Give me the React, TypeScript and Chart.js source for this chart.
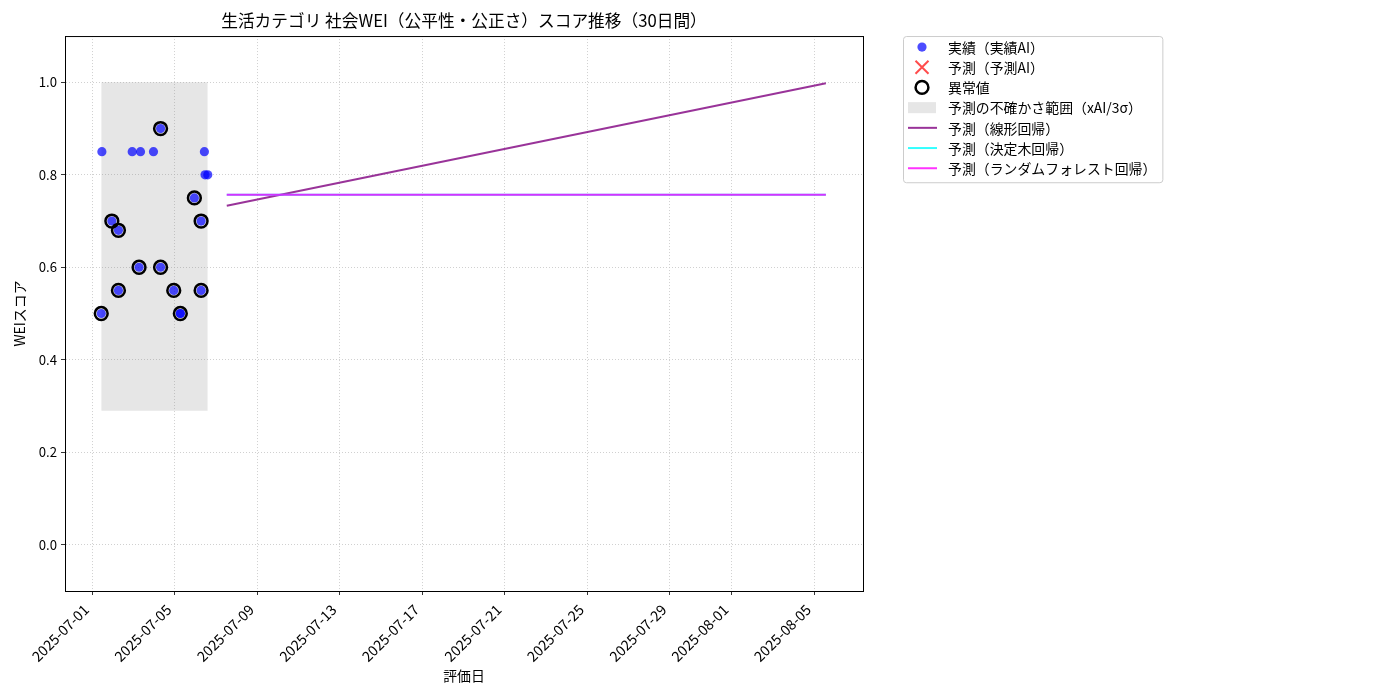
import { useEffect, useRef } from 'react';
import { Chart, registerables } from 'chart.js';

Chart.register(...registerables);

const FONT = '"Noto Sans CJK JP", "Noto Sans", sans-serif';

// 実績（実績AI）
const actualDates = [
  '2025-07-01T10:30', '2025-07-01T11:15', '2025-07-01T22:50', '2025-07-02T06:30',
  '2025-07-02T06:30', '2025-07-02T22:30', '2025-07-03T06:30', '2025-07-03T08:10',
  '2025-07-03T23:15', '2025-07-04T07:30', '2025-07-04T07:30', '2025-07-04T22:50',
  '2025-07-05T06:30', '2025-07-05T06:30', '2025-07-05T22:50', '2025-07-06T06:40',
  '2025-07-06T06:40', '2025-07-06T10:30', '2025-07-06T11:15', '2025-07-06T14:25',
];
const actualScores = [
  0.5, 0.85, 0.7, 0.68,
  0.55, 0.85, 0.6, 0.85,
  0.85, 0.9, 0.6, 0.55,
  0.5, 0.5, 0.75, 0.7,
  0.55, 0.85, 0.8, 0.8,
];

// 異常値
const outlierDates = [
  '2025-07-01T10:30', '2025-07-01T22:50', '2025-07-02T06:30', '2025-07-02T06:30',
  '2025-07-03T06:30', '2025-07-04T07:30', '2025-07-04T07:30', '2025-07-04T22:50',
  '2025-07-05T06:30', '2025-07-05T22:50', '2025-07-06T06:40', '2025-07-06T06:40',
];
const outlierScores = [0.5, 0.7, 0.68, 0.55, 0.6, 0.9, 0.6, 0.55, 0.5, 0.75, 0.7, 0.55];

// 予測
const forecastDates = ['2025-07-07T12:30', '2025-08-05T13:30'];
const linearForecast = [0.733, 0.998];
const treeForecast = [0.757, 0.757];
const forestForecast = [0.757, 0.757];

// 不確かさ範囲
const bandDates = ['2025-07-01T10:30', '2025-07-06T14:25'];
const bandHigh = [1.0, 1.0];
const bandLow = 0.29;

const xTickLabels = [
  '2025-07-01', '2025-07-05', '2025-07-09', '2025-07-13', '2025-07-17',
  '2025-07-21', '2025-07-25', '2025-07-29', '2025-08-01', '2025-08-05',
];
const yTicks = [0.0, 0.2, 0.4, 0.6, 0.8, 1.0];
const xRange = ['2025-06-29T16:20', '2025-08-07T08:40'];
const yRange = [-0.1, 1.1];

const toMs = (s: string) => Date.parse(s.length === 10 ? s + 'T00:00:00Z' : s + ':00Z');
const pts = (dates: string[], vals: number[]) => dates.map((d, i) => ({ x: toMs(d), y: vals[i] }));

const mplLegend = {
  id: 'mplLegend',
  afterDraw(chart: any) {
    const { ctx, chartArea } = chart;
    ctx.save();
    // top and right spines
    ctx.strokeStyle = '#000';
    ctx.lineWidth = 1;
    ctx.strokeRect(chartArea.left + 0.5, chartArea.top + 0.5, chartArea.right - chartArea.left, chartArea.bottom - chartArea.top);

    const items = chart.data.datasets;
    ctx.font = `13.9px ${FONT}`;
    const x0 = chartArea.right + 40;
    const y0 = chartArea.top;
    const rowH = 20.2;
    const markerX = x0 + 19;
    const textX = x0 + 45;
    let maxW = 0;
    items.forEach((ds: any) => { maxW = Math.max(maxW, ctx.measureText(ds.label).width); });
    const w = textX - x0 + maxW + 6;
    const h = 11 + (items.length - 1) * rowH + 14;

    ctx.beginPath();
    ctx.roundRect(x0 + 0.5, y0 + 0.5, w, h, 3);
    ctx.fillStyle = 'rgba(255,255,255,0.8)';
    ctx.fill();
    ctx.strokeStyle = '#cccccc';
    ctx.stroke();

    items.forEach((ds: any, i: number) => {
      const cy = y0 + 11 + i * rowH;
      if (ds.fill) {
        ctx.fillStyle = ds.backgroundColor;
        ctx.fillRect(x0 + 5, cy - 5.5, 28, 11);
      } else if (ds.type === 'line') {
        ctx.strokeStyle = ds.borderColor;
        ctx.lineWidth = ds.borderWidth;
        ctx.beginPath();
        ctx.moveTo(x0 + 5, cy);
        ctx.lineTo(x0 + 34, cy);
        ctx.stroke();
      } else if (ds.pointStyle === 'crossRot') {
        ctx.strokeStyle = ds.borderColor;
        ctx.lineWidth = 2;
        const s = 6.5;
        ctx.beginPath();
        ctx.moveTo(markerX - s, cy - s);
        ctx.lineTo(markerX + s, cy + s);
        ctx.moveTo(markerX + s, cy - s);
        ctx.lineTo(markerX - s, cy + s);
        ctx.stroke();
      } else {
        ctx.beginPath();
        ctx.arc(markerX, cy, ds.pointRadius, 0, Math.PI * 2);
        if (ds.borderWidth > 0) {
          ctx.strokeStyle = ds.borderColor;
          ctx.lineWidth = ds.borderWidth;
          ctx.stroke();
        } else {
          ctx.fillStyle = ds.backgroundColor;
          ctx.fill();
        }
      }
      ctx.fillStyle = '#000';
      ctx.textAlign = 'left';
      ctx.textBaseline = 'middle';
      ctx.fillText(ds.label, textX, cy + 0.5);
    });
    ctx.restore();
  },
};

const App = () => {
  const chartRef = useRef<HTMLCanvasElement | null>(null);
  const chartInstanceRef = useRef<Chart | null>(null);

  useEffect(() => {
    if (!chartRef.current) return;
    const ctx = chartRef.current.getContext('2d');
    if (!ctx) return;
    if (chartInstanceRef.current) {
      chartInstanceRef.current.destroy();
    }
    chartInstanceRef.current = new Chart(ctx, {
      type: 'scatter',
      data: {
        datasets: [
          {
            label: '実績（実績AI）',
            data: pts(actualDates, actualScores),
            backgroundColor: 'rgba(0,0,255,0.7)',
            borderWidth: 0,
            pointRadius: 4.6,
            order: 3,
          },
          {
            label: '予測（予測AI）',
            data: [],
            pointStyle: 'crossRot',
            borderColor: 'rgba(255,0,0,0.7)',
            backgroundColor: 'rgba(255,0,0,0.7)',
            borderWidth: 2,
            pointRadius: 6,
            order: 2,
          },
          {
            label: '異常値',
            data: pts(outlierDates, outlierScores),
            backgroundColor: 'rgba(0,0,0,0)',
            borderColor: '#000',
            borderWidth: 2.5,
            pointRadius: 6.4,
            order: 1,
          },
          {
            type: 'line',
            label: '予測の不確かさ範囲（xAI/3σ）',
            data: pts(bandDates, bandHigh),
            fill: { value: bandLow },
            backgroundColor: 'rgba(128,128,128,0.2)',
            borderWidth: 0,
            pointRadius: 0,
            order: 10,
          },
          {
            type: 'line',
            label: '予測（線形回帰）',
            data: pts(forecastDates, linearForecast),
            borderColor: 'rgba(128,0,128,0.8)',
            borderWidth: 2,
            pointRadius: 0,
            fill: false,
            order: 6,
          },
          {
            type: 'line',
            label: '予測（決定木回帰）',
            data: pts(forecastDates, treeForecast),
            borderColor: 'rgba(0,255,255,0.8)',
            borderWidth: 2,
            pointRadius: 0,
            fill: false,
            order: 5,
          },
          {
            type: 'line',
            label: '予測（ランダムフォレスト回帰）',
            data: pts(forecastDates, forestForecast),
            borderColor: 'rgba(255,0,255,0.8)',
            borderWidth: 2,
            pointRadius: 0,
            fill: false,
            order: 4,
          },
        ] as any,
      },
      options: {
        animation: false,
        responsive: true,
        maintainAspectRatio: false,
        events: [],
        layout: { padding: { left: 0, right: 537, top: 0, bottom: 0 } },
        plugins: {
          legend: { display: false },
          tooltip: { enabled: false },
          title: {
            display: true,
            text: '生活カテゴリ 社会WEI（公平性・公正さ）スコア推移（30日間）',
            fullSize: false,
            color: '#000',
            font: { family: FONT, size: 16.7, weight: 'normal' },
            padding: { top: 11, bottom: 5 },
          },
        },
        scales: {
          x: {
            type: 'linear',
            min: toMs(xRange[0]),
            max: toMs(xRange[1]),
            afterBuildTicks: (scale: any) => {
              scale.ticks = xTickLabels.map((s) => ({ value: toMs(s) }));
            },
            afterFit: (scale: any) => { scale.height = 109; },
            ticks: {
              autoSkip: false,
              minRotation: 45,
              maxRotation: 45,
              padding: 6,
              labelOffset: -6,
              color: '#000',
              font: { family: FONT, size: 14.3 },
              callback: (v: any) => new Date(Number(v)).toISOString().slice(0, 10),
            },
            grid: { color: '#c4c4c4', lineWidth: 0.8, tickColor: '#000', tickLength: 4 },
            border: { color: '#000', width: 1, dash: [1, 2] },
            title: {
              display: true,
              text: '評価日',
              color: '#000',
              font: { family: FONT, size: 13.9 },
              padding: { top: 0, bottom: 16 },
            },
          },
          y: {
            min: yRange[0],
            max: yRange[1],
            afterBuildTicks: (scale: any) => {
              scale.ticks = yTicks.map((v) => ({ value: v }));
            },
            afterFit: (scale: any) => { scale.width = 65; },
            ticks: {
              padding: 4,
              color: '#000',
              font: { family: FONT, size: 13.2 },
              callback: (v: any) => Number(v).toFixed(1),
            },
            grid: { color: '#c4c4c4', lineWidth: 0.8, tickColor: '#000', tickLength: 4 },
            border: { color: '#000', width: 1, dash: [1, 2] },
            title: {
              display: true,
              text: 'WEIスコア',
              color: '#000',
              font: { family: FONT, size: 13.9 },
              padding: { top: 11, bottom: 0 },
            },
          },
        },
      },
      plugins: [mplLegend],
    });
    return () => {
      if (chartInstanceRef.current) {
        chartInstanceRef.current.destroy();
        chartInstanceRef.current = null;
      }
    };
  }, []);

  return (
    <div style={{ position: 'absolute', left: 0, top: 0, width: 1400, height: 700, background: '#fff' }}>
      <canvas ref={chartRef}></canvas>
    </div>
  );
};

export default App;
